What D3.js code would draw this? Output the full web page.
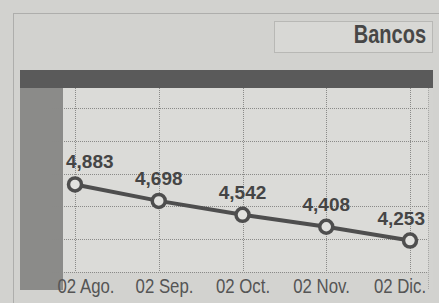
<!DOCTYPE html>
<html>
<head>
<meta charset="utf-8">
<script src="https://cdn.jsdelivr.net/npm/d3@7"></script>
<style>
  body { margin: 0; background: #d2d2cf; }
  svg { display: block; }
</style>
</head>
<body>
<svg width="439" height="303"></svg>
<script>
var months = ["02 Ago.", "02 Sep.", "02 Oct.", "02 Nov.", "02 Dic."];
var values = [4883, 4698, 4542, 4408, 4253];
var title = "Bancos";

var svg = d3.select("svg"),
    width = +svg.attr("width"),
    height = +svg.attr("height");

var fontFam = "'Liberation Sans', Arial, sans-serif";
var ink = "#4e4e4e";

// outer dotted frame
svg.append("rect")
    .attr("x", 13.5).attr("y", 13.5)
    .attr("width", 440).attr("height", 300)
    .attr("fill", "none")
    .attr("stroke", "#8a8a88")
    .attr("stroke-dasharray", "1,1");

// title box
svg.append("rect")
    .attr("x", 274.5).attr("y", 21.5)
    .attr("width", 158).attr("height", 31)
    .attr("fill", "#d8d8d5")
    .attr("stroke", "#9a9a98")
    .attr("stroke-dasharray", "1,1");

svg.append("text")
    .attr("transform", "translate(426,43) scale(0.8,1)")
    .attr("text-anchor", "end")
    .attr("font-family", fontFam)
    .attr("font-weight", "bold")
    .attr("font-size", 25)
    .attr("fill", "#474747")
    .text(title);

// plot region
var plot = { left: 63, right: 428, top: 88, bottom: 272 };

svg.append("rect")
    .attr("x", plot.left).attr("y", plot.top)
    .attr("width", 370).attr("height", 202)
    .attr("fill", "#d3d3d0");

svg.append("rect")
    .attr("x", plot.left).attr("y", plot.top)
    .attr("width", plot.right - plot.left).attr("height", plot.bottom - plot.top)
    .attr("fill", "#dbdbd8");

// dark band + left bar
svg.append("rect")
    .attr("x", 20).attr("y", 70)
    .attr("width", 413).attr("height", 18)
    .attr("fill", "#5a5a5a");

svg.append("rect")
    .attr("x", 20).attr("y", 88)
    .attr("width", 43).attr("height", 202)
    .attr("fill", "#8b8b89");

var x = d3.scalePoint()
    .domain(months)
    .range([75, 410]);

var xLabel = d3.scalePoint()
    .domain(months)
    .range([86, 400]);

var y = d3.scaleLinear()
    .domain([3900, 5000])
    .range([plot.bottom, 174]);

// grid
var gridRows = d3.scaleLinear().domain([0, 5]).range([108, plot.bottom]);
svg.append("g")
    .selectAll("line")
    .data(d3.range(6))
    .enter().append("line")
    .attr("x1", 52).attr("x2", plot.right)
    .attr("y1", function(d) { return Math.round(gridRows(d)) + 0.5; })
    .attr("y2", function(d) { return Math.round(gridRows(d)) + 0.5; })
    .attr("stroke", "#8a8a88")
    .attr("stroke-width", 1)
    .attr("stroke-dasharray", "1,1");

svg.append("g")
    .selectAll("line")
    .data(months)
    .enter().append("line")
    .attr("x1", function(d) { return Math.round(x(d)) + 0.5; })
    .attr("x2", function(d) { return Math.round(x(d)) + 0.5; })
    .attr("y1", plot.top).attr("y2", plot.bottom)
    .attr("stroke", "#8a8a88")
    .attr("stroke-dasharray", "1,1");

// right edge line
svg.append("line")
    .attr("x1", plot.right + 0.5).attr("x2", plot.right + 0.5)
    .attr("y1", plot.top).attr("y2", 290)
    .attr("stroke", "#a8a8a6")
    .attr("stroke-dasharray", "1,1");

// series
var line = d3.line()
    .x(function(d, i) { return x(months[i]); })
    .y(function(d) { return y(d); });

svg.append("path")
    .datum(values)
    .attr("d", line)
    .attr("fill", "none")
    .attr("stroke", ink)
    .attr("stroke-width", 4);

svg.append("g")
    .selectAll("circle")
    .data(values)
    .enter().append("circle")
    .attr("cx", function(d, i) { return x(months[i]); })
    .attr("cy", function(d) { return y(d); })
    .attr("r", 6.5)
    .attr("fill", "#e2e2df")
    .attr("stroke", ink)
    .attr("stroke-width", 3.5);

// value labels, kept inside the plot
var fmt = d3.format(",");
var labels = svg.append("g")
    .selectAll("text")
    .data(values)
    .enter().append("text")
    .attr("y", function(d) { return y(d) - 16; })
    .attr("font-family", fontFam)
    .attr("font-weight", "bold")
    .attr("font-size", 19)
    .attr("fill", "#454545")
    .text(function(d) { return fmt(d); });

labels.each(function(d, i) {
  var w = this.getComputedTextLength();
  var cx = x(months[i]) - w / 2;
  cx = Math.max(66, Math.min(cx, 425 - w));
  d3.select(this).attr("x", cx);
});

// month labels (condensed)
svg.append("g")
    .selectAll("text")
    .data(months)
    .enter().append("text")
    .attr("transform", function(d) { return "translate(" + xLabel(d) + ",293) scale(0.8,1)"; })
    .attr("text-anchor", "middle")
    .attr("font-family", fontFam)
    .attr("font-size", 21)
    .attr("fill", "#555")
    .text(function(d) { return d; });
</script>
</body>
</html>
